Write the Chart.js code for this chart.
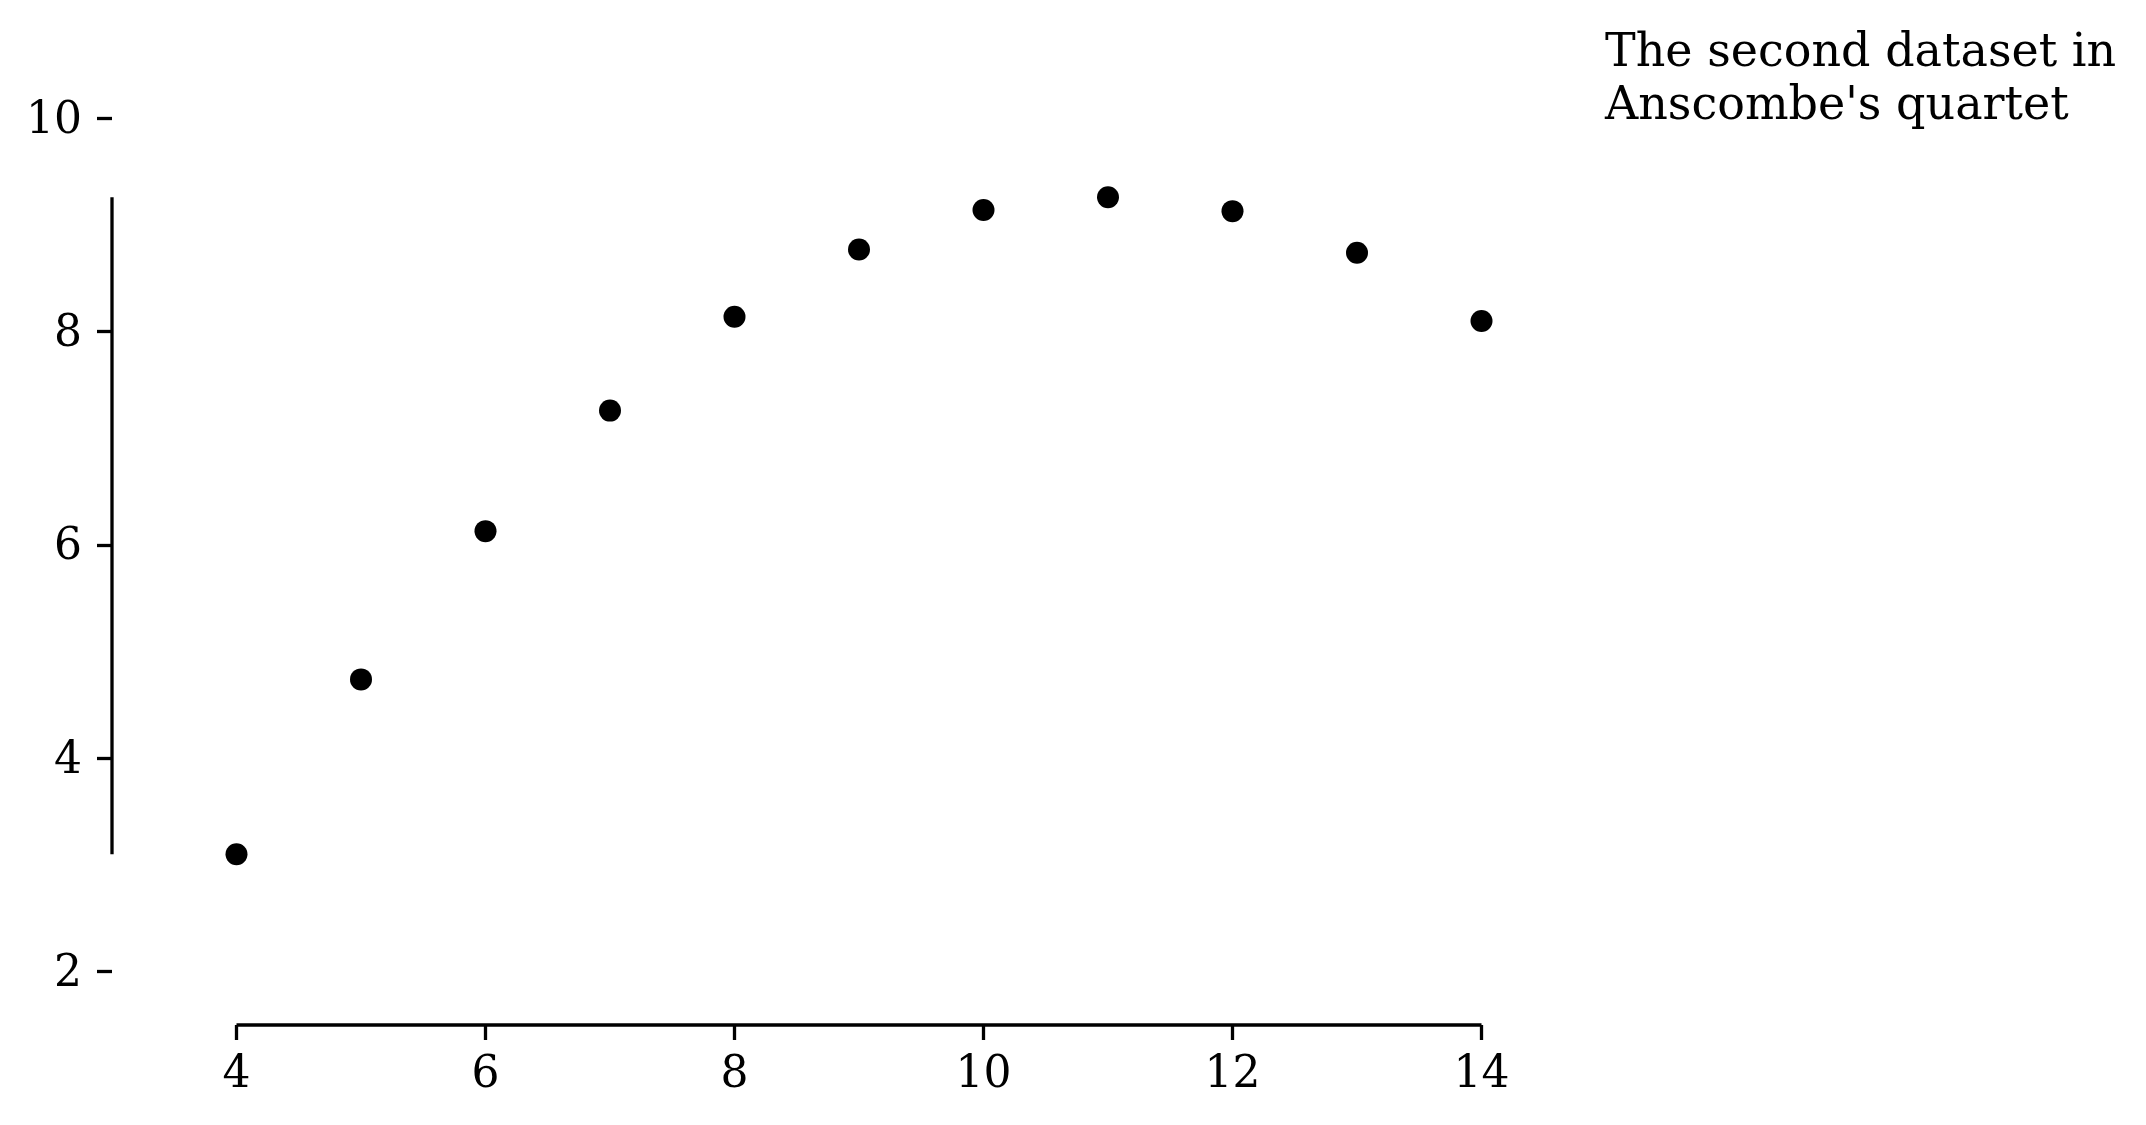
<!DOCTYPE html>
<html lang="en">
<head>
    <meta charset="UTF-8">
    <title>Anscombe's quartet - dataset II</title>
    <script src="https://cdn.jsdelivr.net/npm/chart.js@4.4.1/dist/chart.umd.min.js"></script>
    <style>
        html, body { margin: 0; padding: 0; background: #fff; }
        #wrap { position: relative; width: 2146px; height: 1125px; }
        #note {
            position: absolute; left: 1605px; top: 24px;
            font-family: "DejaVu Serif", serif; font-size: 46px; line-height: 53px;
            color: #000; white-space: pre;
        }
    </style>
</head>
<body>
<div id="wrap">
    <canvas id="myChart" width="2146" height="1125"></canvas>
    <div id="note">The second dataset in
Anscombe's quartet</div>
</div>
<script>
    // Anscombe dataset II
    var xValues = [10, 8, 13, 9, 11, 14, 6, 4, 12, 7, 5];
    var yValues = [9.14, 8.14, 8.74, 8.77, 9.26, 8.10, 6.13, 3.10, 9.13, 7.26, 4.74];
    var xTicks = [4, 6, 8, 10, 12, 14];
    var yTicks = [2, 4, 6, 8, 10];

    var points = xValues.map(function (x, i) { return { x: x, y: yValues[i] }; });

    // range frame: spines only cover the data extent
    var rangeFrame = {
        id: 'rangeFrame',
        afterDraw: function (chart) {
            var ctx = chart.ctx, xs = chart.scales.x, ys = chart.scales.y;
            var area = chart.chartArea;
            ctx.save();
            ctx.strokeStyle = '#000';
            ctx.lineWidth = 3.3;
            ctx.lineCap = 'butt';
            ctx.beginPath();
            ctx.moveTo(area.left, ys.getPixelForValue(Math.min.apply(null, yValues)));
            ctx.lineTo(area.left, ys.getPixelForValue(Math.max.apply(null, yValues)));
            ctx.moveTo(xs.getPixelForValue(Math.min.apply(null, xValues)), area.bottom);
            ctx.lineTo(xs.getPixelForValue(Math.max.apply(null, xValues)), area.bottom);
            ctx.stroke();
            ctx.restore();
        }
    };

    var tickFont = { family: 'DejaVu Serif', size: 44 };

    new Chart(document.getElementById('myChart'), {
        type: 'scatter',
        data: {
            datasets: [{
                data: points,
                backgroundColor: '#000',
                borderWidth: 0,
                pointRadius: 11,
                pointHoverRadius: 11
            }]
        },
        options: {
            responsive: false,
            animation: false,
            devicePixelRatio: 1,
            layout: { padding: { left: 0, top: 65, right: 540, bottom: 0 } },
            plugins: { legend: { display: false }, tooltip: { enabled: false } },
            scales: {
                x: {
                    type: 'linear', min: 3, max: 15,
                    border: { display: false },
                    grid: { drawOnChartArea: false, drawTicks: true, tickLength: 15, tickColor: '#000', tickWidth: 3.3 },
                    ticks: { color: '#000', font: tickFont, padding: 9, maxRotation: 0 },
                    afterBuildTicks: function (s) { s.ticks = xTicks.map(function (v) { return { value: v }; }); },
                    afterFit: function (s) { s.height = 100; }
                },
                y: {
                    type: 'linear', min: 1.5, max: 10.5,
                    border: { display: false },
                    grid: { drawOnChartArea: false, drawTicks: true, tickLength: 15, tickColor: '#000', tickWidth: 3.3 },
                    ticks: { color: '#000', font: tickFont, padding: 15, labelOffset: 3 },
                    afterBuildTicks: function (s) { s.ticks = yTicks.map(function (v) { return { value: v }; }); },
                    afterFit: function (s) { s.width = 112; }
                }
            }
        },
        plugins: [rangeFrame]
    });
</script>
</body>
</html>
